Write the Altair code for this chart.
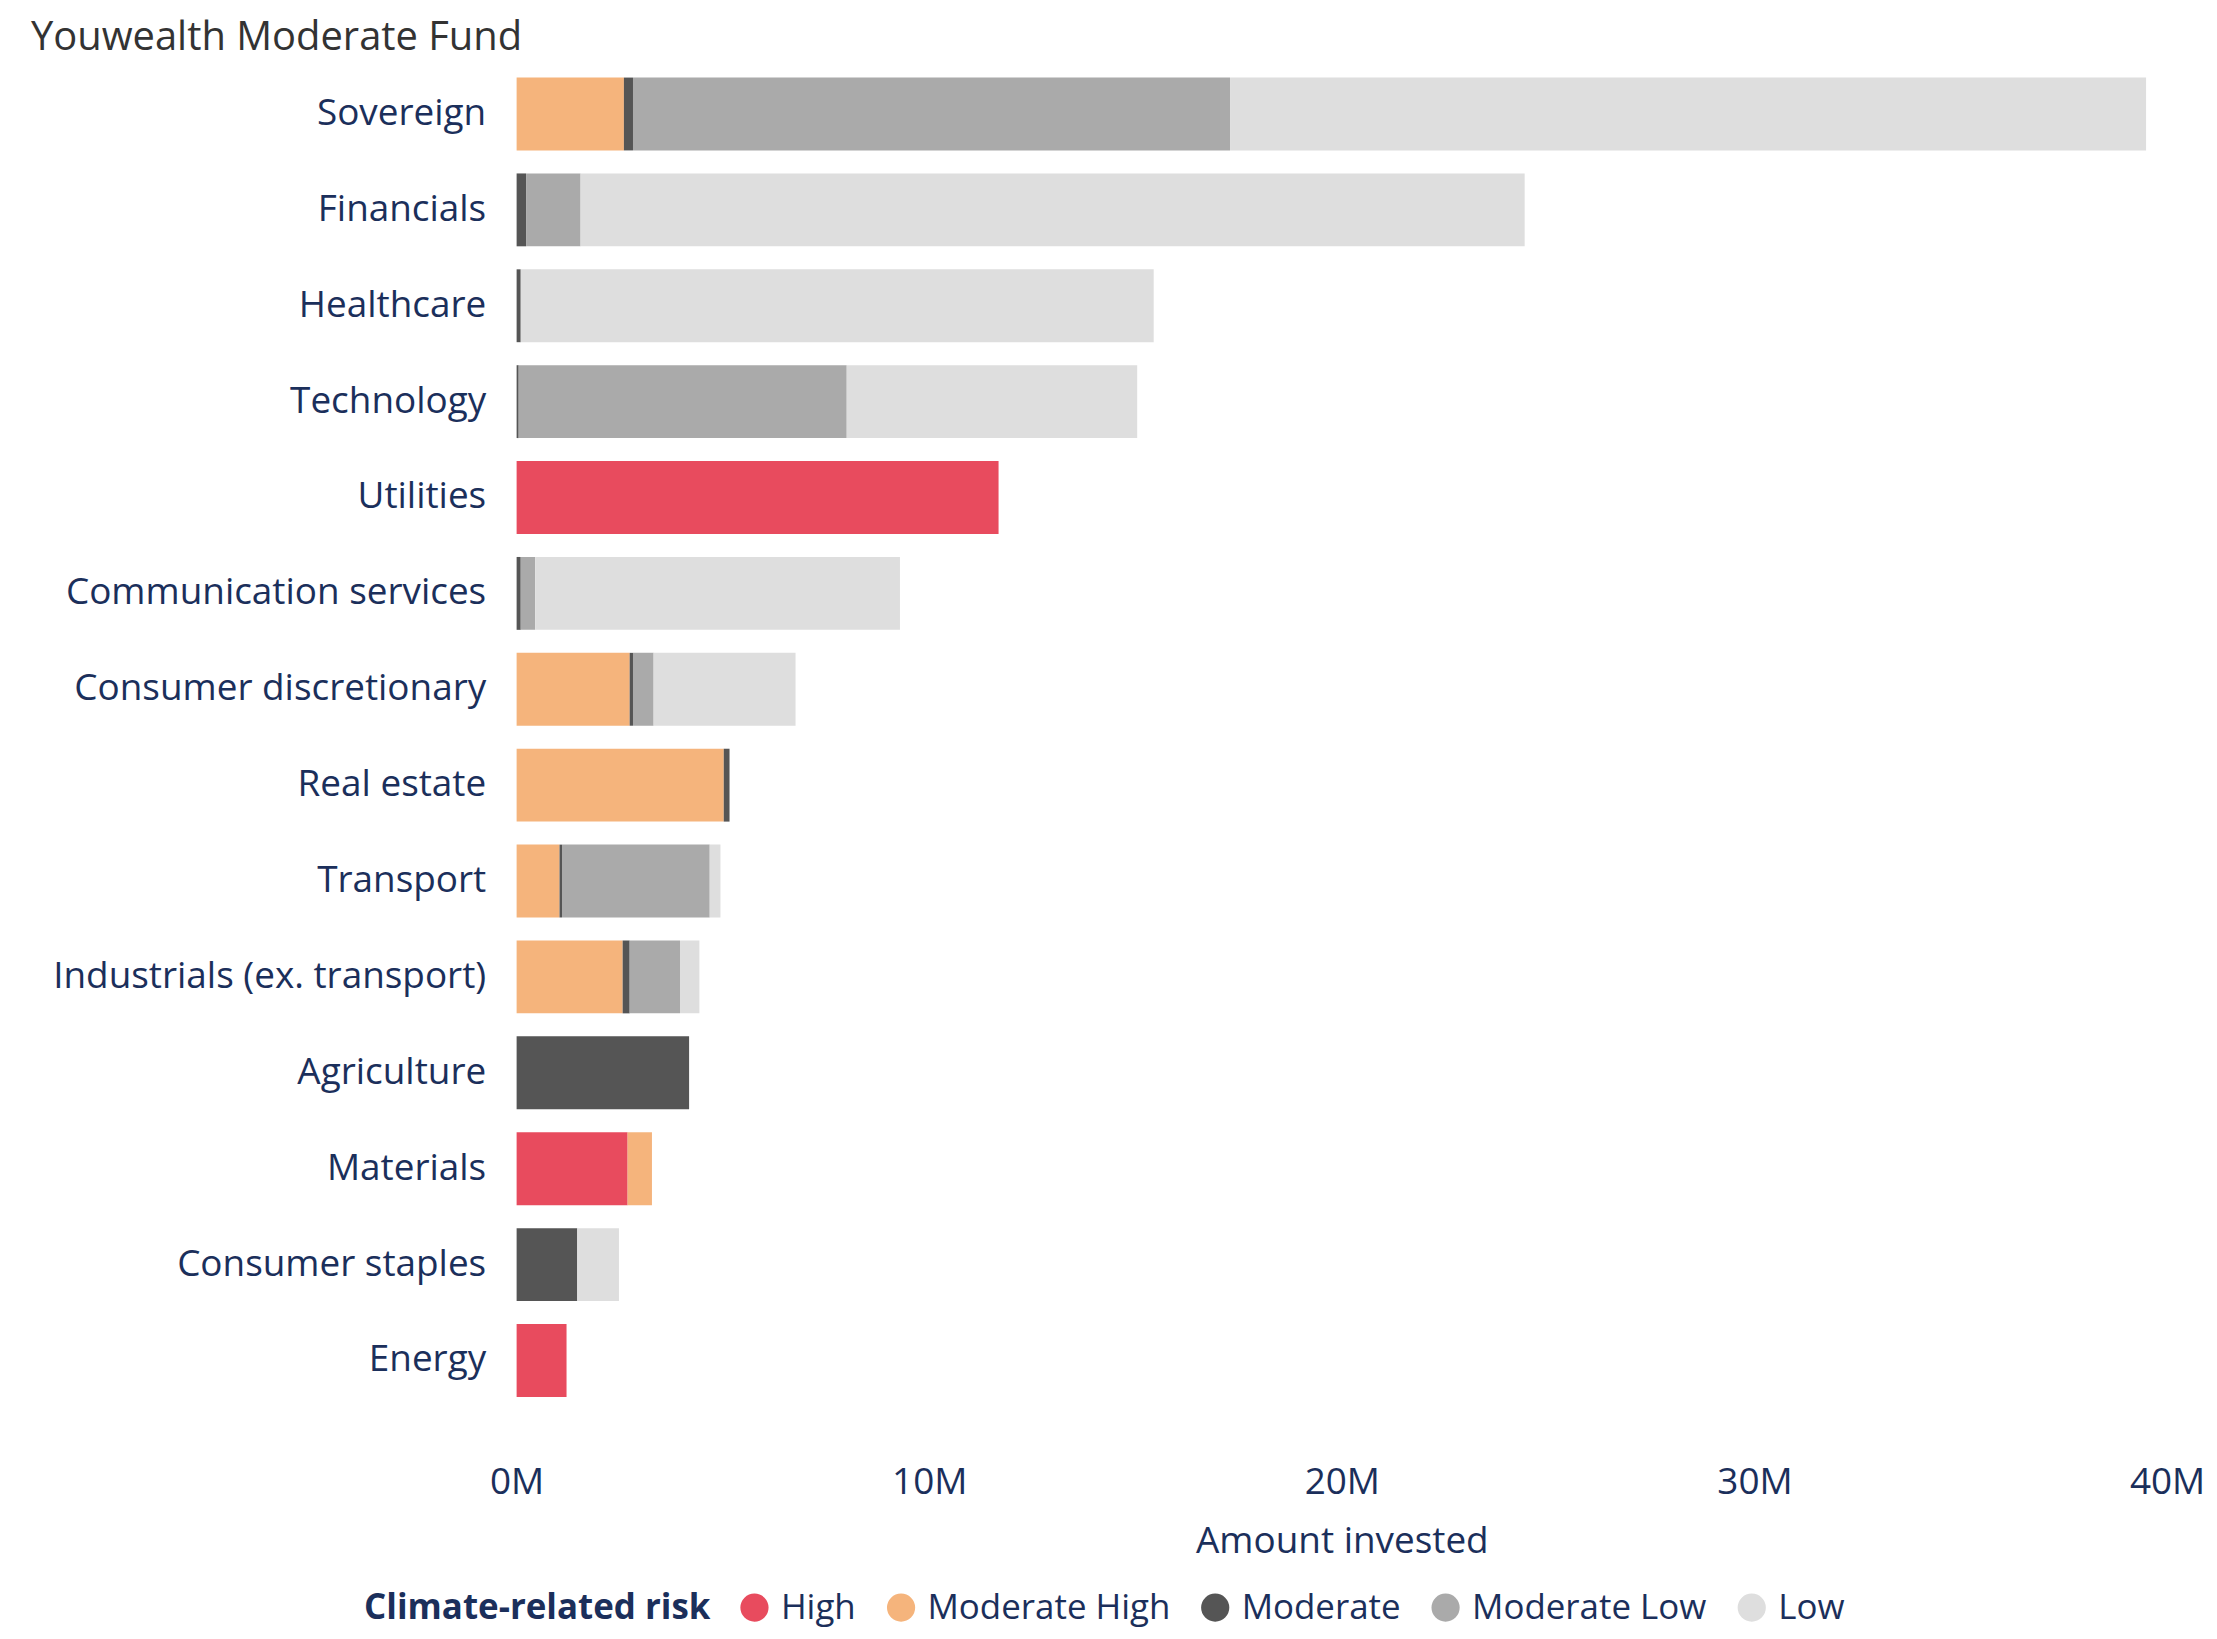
import altair as alt
import pandas as pd

FONT = "Open Sans"
NAVY = "#1B2F5B"

sectors = [
    "Sovereign", "Financials", "Healthcare", "Technology", "Utilities",
    "Communication services", "Consumer discretionary", "Real estate",
    "Transport", "Industrials (ex. transport)", "Agriculture", "Materials",
    "Consumer staples", "Energy",
]
risk_levels = ["High", "Moderate High", "Moderate", "Moderate Low", "Low"]
risk_colors = ["#E84B5E", "#F5B47C", "#555555", "#AAAAAA", "#DEDEDE"]

# Amount invested, millions
high =     [0, 0, 0, 0, 11.68, 0, 0, 0, 0, 0, 0, 2.69, 0, 1.21]
mod_high = [2.60, 0, 0, 0, 0, 0, 2.74, 5.02, 1.04, 2.57, 0, 0.59, 0, 0]
moderate = [0.22, 0.23, 0.10, 0.05, 0, 0.10, 0.08, 0.14, 0.06, 0.17, 4.18, 0, 1.47, 0]
mod_low =  [14.47, 1.32, 0, 7.95, 0, 0.35, 0.50, 0, 3.58, 1.22, 0, 0, 0, 0]
low =      [22.20, 22.88, 15.34, 7.04, 0, 8.84, 3.44, 0, 0.26, 0.47, 0, 0, 1.01, 0]

series = [high, mod_high, moderate, mod_low, low]
rows = []
for i, s in enumerate(sectors):
    for j, lvl in enumerate(risk_levels):
        v = series[j][i]
        if v > 0:
            rows.append({"sector": s, "risk": lvl, "rank": j, "amount": v})
df = pd.DataFrame(rows)

chart = alt.Chart(df).mark_bar().encode(
    y=alt.Y(
        "sector:N", sort=sectors, title=None,
        scale=alt.Scale(paddingInner=0.24, paddingOuter=0.12),
        axis=alt.Axis(labelFontSize=37, labelColor=NAVY, labelPadding=31,
                      ticks=False, domain=False, labelFont=FONT, labelLimit=700),
    ),
    x=alt.X(
        "amount:Q", stack="zero", title="Amount invested",
        scale=alt.Scale(domain=[0, 40]),
        axis=alt.Axis(values=[0, 10, 20, 30, 40], labelExpr="datum.value + 'M'",
                      grid=False, domain=False, ticks=False, labelFlush=False,
                      labelFontSize=37, labelColor=NAVY, labelFont=FONT,
                      labelPadding=56, titleFontSize=37, titleColor=NAVY,
                      titleFont=FONT, titleFontWeight="normal", titlePadding=23),
    ),
    color=alt.Color(
        "risk:N",
        scale=alt.Scale(domain=risk_levels, range=risk_colors),
        legend=alt.Legend(
            title="Climate-related risk", orient="none", legendX=-153, legendY=1528,
            direction="horizontal", titleOrient="left",
            titleFontSize=35, titleFontWeight="bold", titleColor=NAVY, titleFont=FONT,
            titlePadding=26, titleLimit=600,
            labelFontSize=35, labelColor=NAVY, labelFont=FONT, labelOffset=9,
            labelLimit=600,
            symbolType="circle", symbolSize=800, symbolStrokeWidth=0,
            columnPadding=27,
        ),
    ),
    order=alt.Order("rank:Q", sort="ascending"),
).properties(
    width=1655, height=1346,
    title=alt.TitleParams("Youwealth Moderate Fund", anchor="start", frame="group",
                          dx=-487, fontSize=40, fontWeight="normal", color="#333333",
                          font=FONT, offset=8),
    padding={"left": 510, "top": 56, "right": 42, "bottom": 221},
    autosize="none",
).configure(font=FONT).configure_view(stroke="transparent", strokeWidth=0)

chart.save("out.html", embed_options={"renderer": "svg", "actions": False})
